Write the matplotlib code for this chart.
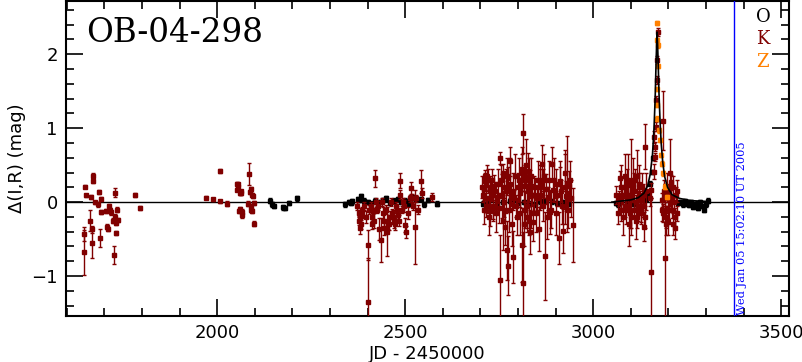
import matplotlib
matplotlib.use("Agg")
import matplotlib.pyplot as plt
from matplotlib.ticker import MultipleLocator

# ---- data: O, K, Z observations: JD-2450000, delta mag, error ----
k_t = [1647, 1647, 1649, 1651, 1662, 1664, 1666, 1667, 1669, 1670, 1675, 1682, 1685, 1688,
       1690, 1691, 1705, 1707, 1709, 1712, 1716, 1717, 1724, 1726, 1728, 1729, 1731, 1732,
       1733, 1735, 1782, 1794,
       1970, 1990, 2008, 2008, 2027, 2055, 2056, 2060, 2061, 2064, 2067, 2085, 2082, 2087,
       2089, 2092, 2095, 2098, 2098,
       2053, 2054, 2058, 2063, 2065, 2090, 2091, 2093,
       2378, 2380, 2382, 2384, 2386, 2400, 2402, 2408, 2411, 2413, 2415, 2421, 2423, 2425,
       2430, 2435, 2440, 2445, 2451, 2455, 2460, 2465, 2470, 2475, 2480, 2487, 2486, 2492,
       2497, 2500, 2503, 2515, 2519, 2526, 2541, 2545, 2572,
       2372, 2376, 2379, 2390, 2395, 2405, 2418, 2428, 2438, 2443, 2448, 2458, 2463, 2468,
       2473, 2478, 2483, 2495, 2508, 2512, 2522, 2530, 2535,
       2707, 2710, 2713, 2715, 2718, 2720, 2722, 2725, 2728, 2732, 2735, 2740, 2745, 2753,
       2753, 2758, 2761, 2762, 2764, 2765, 2772, 2774, 2774, 2778, 2782, 2786, 2790, 2795,
       2800, 2805, 2808, 2810, 2812, 2814, 2814, 2816, 2818, 2820, 2823, 2826, 2828, 2830,
       2833, 2836, 2838, 2840, 2845, 2850, 2856, 2860, 2862, 2864, 2866, 2868, 2871, 2875,
       2880, 2885, 2890, 2894, 2900, 2904, 2908, 2911, 2915, 2921, 2925, 2928, 2930, 2935,
       2946,
       2705, 2709, 2712, 2716, 2719, 2723, 2726, 2730, 2733, 2737, 2742, 2748, 2750, 2756,
       2760, 2767, 2770, 2776, 2780, 2784, 2788, 2792, 2797, 2802, 2806, 2811, 2817, 2821,
       2825, 2829, 2832, 2835, 2842, 2848, 2853, 2858, 2870, 2878, 2883, 2888, 2897, 2902,
       2913, 2918, 2924, 2932, 2938, 2942,
       3068, 3071, 3075, 3078, 3082, 3085, 3088, 3090, 3093, 3097, 3100, 3104, 3108, 3112,
       3115, 3118, 3121, 3125, 3128, 3132, 3135, 3136, 3137, 3138, 3150, 3155, 3155, 3161,
       3163, 3164, 3165, 3166, 3168, 3170, 3171, 3172,
       3062, 3066, 3073, 3080, 3084, 3087, 3092, 3095, 3099, 3102, 3106, 3110, 3114, 3117,
       3120, 3123, 3127, 3130, 3133, 3140,
       3184, 3186, 3187, 3190, 3192, 3195, 3198, 3200, 3203, 3205, 3208, 3210, 3212, 3215,
       3218, 3220, 3224,
       3183, 3189, 3194, 3197, 3201, 3206, 3213, 3217, 3222]
k_m = [-0.43, -0.68, 0.21, 0.09, -0.25, 0.07, -0.37, -0.55, 0.36, 0.29, 0.00, -0.03, 0.14, -0.49,
       -0.13, 0.04, -0.12, -0.33, -0.36, -0.05, -0.11, -0.14, -0.25, -0.72, 0.13, -0.20, -0.28, -0.42,
       -0.10, -0.24, 0.10, -0.08,
       0.06, 0.04, 0.42, 0.01, -0.02, 0.20, 0.24, -0.09, 0.13, 0.15, -0.17, 0.38, -0.02, 0.14,
       -0.10, -0.12, 0.08, -0.01, -0.29,
       0.25, 0.17, -0.12, 0.12, -0.13, 0.18, -0.05, 0.10,
       -0.15, -0.22, -0.30, -0.18, -0.10, -0.58, -1.35, -0.05, -0.20, -0.30, -0.12, 0.32, 0.00, -0.10,
       -0.36, -0.51, -0.15, -0.25, -0.40, -0.30, -0.20, -0.15, -0.25, -0.05, -0.18, 0.29, 0.10, -0.10,
       -0.05, -0.31, -0.40, 0.19, 0.05, -0.33, 0.28, 0.12, 0.07,
       -0.05, -0.25, -0.35, -0.05, -0.20, -0.10, -0.25, -0.05, 0.00, -0.35, -0.10, -0.30, 0.00, -0.20,
       -0.30, -0.10, -0.25, 0.00, -0.15, 0.05, -0.05, 0.05, -0.10,
       0.10, 0.18, 0.36, 0.25, -0.05, 0.30, 0.05, -0.12, 0.20, 0.12, -0.08, 0.15, 0.02, 0.60,
       -1.05, 0.08, 0.40, 0.20, 0.00, -0.33, -0.65, 0.33, -0.86, 0.55, 0.10, -0.74, 0.05, -0.05,
       0.20, 0.12, 0.30, -0.58, 0.40, 0.93, -1.10, 0.22, -0.10, 0.35, -0.20, 0.15, 0.42, -0.25,
       0.28, -0.15, 0.10, -0.27, 0.20, 0.05, -0.36, 0.25, 0.10, 0.52, 0.30, -0.05, -0.73, 0.18,
       0.05, -0.13, 0.52, 0.16, 0.25, 0.10, -0.49, 0.28, 0.15, -0.39, 0.20, 0.08, 0.25, 0.22,
       -0.31,
       0.20, -0.10, 0.28, 0.05, 0.35, -0.20, 0.15, 0.30, -0.05, 0.22, -0.15, 0.25, -0.08, 0.30,
       -0.25, 0.15, 0.35, -0.10, 0.25, -0.30, 0.15, 0.35, -0.20, 0.30, -0.15, 0.45, -0.30, 0.50,
       -0.05, 0.30, -0.40, 0.35, 0.10, -0.15, 0.30, 0.20, 0.35, -0.20, 0.30, -0.10, 0.30, -0.15,
       0.25, -0.05, 0.40, -0.10, 0.30, 0.05,
       0.05, 0.32, -0.10, 0.10, 0.20, -0.05, 0.12, 0.25, 0.05, -0.15, 0.25, 0.15, -0.10, 0.30,
       0.00, -0.20, 0.20, 0.05, -0.15, 0.10, 0.09, -0.33, 0.75, -0.20, 0.05, 0.16, -0.94, 0.41,
       0.88, 0.75, 0.61, 1.02, 1.38, 1.65, 1.92, 2.30,
       0.10, -0.15, 0.20, -0.20, 0.35, -0.10, 0.30, -0.30, 0.10, -0.20, 0.30, 0.15, -0.25, 0.35,
       -0.05, 0.25, -0.10, 0.20, -0.05, 0.15,
       0.03, 1.10, -0.15, 0.10, -0.76, -0.20, 0.05, -0.25, 0.15, 0.40, 0.27, -0.10, -0.30, 0.00,
       -0.20, 0.10, -0.15,
       -0.10, 0.15, -0.30, 0.20, -0.10, 0.05, 0.20, -0.35, 0.15]
k_e = [0.10, 0.30, 0.02, 0.02, 0.14, 0.03, 0.05, 0.21, 0.03, 0.03, 0.02, 0.03, 0.03, 0.12,
       0.03, 0.03, 0.03, 0.03, 0.03, 0.02, 0.03, 0.04, 0.03, 0.12, 0.06, 0.04, 0.03, 0.03,
       0.03, 0.03, 0.03, 0.03,
       0.02, 0.02, 0.03, 0.02, 0.03, 0.03, 0.02, 0.03, 0.03, 0.02, 0.04, 0.15, 0.03, 0.03,
       0.03, 0.03, 0.03, 0.03, 0.03,
       0.02, 0.02, 0.03, 0.03, 0.04, 0.03, 0.03, 0.03,
       0.05, 0.05, 0.06, 0.04, 0.04, 0.20, 0.60, 0.05, 0.05, 0.07, 0.04, 0.12, 0.06, 0.05,
       0.15, 0.30, 0.08, 0.10, 0.33, 0.07, 0.08, 0.06, 0.10, 0.05, 0.06, 0.10, 0.06, 0.05,
       0.08, 0.10, 0.08, 0.08, 0.06, 0.50, 0.16, 0.07, 0.05,
       0.05, 0.06, 0.08, 0.05, 0.08, 0.06, 0.10, 0.06, 0.05, 0.10, 0.06, 0.08, 0.05, 0.10,
       0.08, 0.05, 0.07, 0.06, 0.08, 0.05, 0.05, 0.05, 0.06,
       0.10, 0.15, 0.08, 0.12, 0.10, 0.15, 0.12, 0.20, 0.12, 0.10, 0.15, 0.12, 0.10, 0.08,
       0.60, 0.30, 0.12, 0.15, 0.20, 0.25, 0.40, 0.15, 0.40, 0.20, 0.15, 0.35, 0.12, 0.15,
       0.20, 0.18, 0.15, 0.50, 0.25, 0.26, 0.70, 0.20, 0.25, 0.15, 0.20, 0.18, 0.25, 0.20,
       0.15, 0.20, 0.15, 0.25, 0.12, 0.15, 0.30, 0.20, 0.15, 0.25, 0.15, 0.20, 0.60, 0.20,
       0.15, 0.30, 0.22, 0.15, 0.20, 0.15, 0.35, 0.20, 0.15, 0.30, 0.50, 0.20, 0.65, 0.20,
       0.50,
       0.15, 0.20, 0.12, 0.25, 0.15, 0.25, 0.20, 0.15, 0.20, 0.15, 0.25, 0.20, 0.20, 0.20,
       0.40, 0.30, 0.25, 0.30, 0.35, 0.30, 0.25, 0.30, 0.25, 0.30, 0.30, 0.30, 0.30, 0.35,
       0.30, 0.30, 0.30, 0.25, 0.25, 0.25, 0.25, 0.30, 0.30, 0.30, 0.25, 0.25, 0.30, 0.30,
       0.30, 0.25, 0.25, 0.25, 0.25, 0.25,
       0.10, 0.10, 0.15, 0.12, 0.12, 0.15, 0.20, 0.20, 0.15, 0.20, 0.60, 0.12, 0.12, 0.15,
       0.10, 0.15, 0.20, 0.10, 0.12, 0.15, 0.10, 0.20, 0.30, 0.15, 0.10, 0.10, 1.00, 0.10,
       0.08, 0.06, 0.06, 0.06, 0.05, 0.05, 0.05, 0.05,
       0.12, 0.15, 0.30, 0.25, 0.30, 0.20, 0.35, 0.30, 0.20, 0.25, 0.30, 0.25, 0.25, 0.35,
       0.20, 0.25, 0.20, 0.20, 0.15, 0.25,
       0.10, 0.40, 0.12, 0.15, 1.00, 0.15, 0.12, 0.20, 0.10, 0.45, 0.10, 0.12, 0.15, 0.10,
       0.12, 0.10, 0.10,
       0.15, 0.15, 0.15, 0.20, 0.20, 0.15, 0.15, 0.15, 0.15]

o_t = [2140, 2145, 2150, 2175, 2180, 2191, 2213,
       2339, 2351, 2355, 2360, 2374, 2378, 2382, 2390, 2400, 2410, 2420, 2430, 2440, 2450,
       2460, 2470, 2480, 2490, 2500, 2510, 2520, 2530, 2541, 2550, 2560, 2586,
       2708, 2720, 2745, 2760, 2778, 2790, 2800, 2815, 2830, 2845, 2860, 2875, 2890, 2905,
       2920, 2935,
       3060, 3065, 3075, 3090, 3110, 3127, 3140, 3145, 3152, 3157, 3160,
       3227, 3232, 3240, 3245, 3250, 3255, 3260, 3265, 3270, 3275, 3280, 3285, 3290, 3295,
       3300, 3305]
o_m = [0.02, -0.03, -0.05, -0.07, -0.08, -0.01, 0.05,
       -0.03, 0.00, -0.01, 0.01, 0.04, 0.03, 0.08, 0.02, 0.00, -0.02, 0.02, 0.00, 0.03, 0.05,
       -0.01, 0.02, 0.04, 0.00, 0.02, -0.02, 0.06, 0.04, 0.04, -0.03, 0.03, -0.02,
       -0.02, 0.01, -0.03, 0.00, 0.02, 0.03, -0.01, 0.00, -0.02, -0.03, 0.01, 0.02, 0.01, -0.01,
       0.00, -0.02,
       -0.01, -0.03, 0.01, -0.01, -0.02, 0.03, 0.04, 0.10, 0.25, 0.41, 0.60,
       -0.01, 0.00, -0.03, 0.01, -0.02, -0.04, 0.00, -0.06, -0.03, -0.02, -0.08, 0.00, -0.05, -0.10,
       -0.03, 0.02]
o_e = [0.03] * len(o_t)

z_t = [3171, 3171, 3172, 3172, 3171, 3171, 3170, 3175, 3178, 3181, 3183, 3187, 3191, 3196]
z_m = [2.42, 2.19, 2.12, 1.84, 1.53, 1.31, 1.13, 0.97, 0.84, 0.64, 0.52, 0.39, 0.21, 0.07]
z_e = [0.03] * len(z_t)

model_t = [3050, 3100, 3120, 3135, 3145, 3152, 3158, 3162, 3165, 3167, 3169, 3170, 3171,
           3173, 3175, 3178, 3181, 3185, 3190, 3198, 3210, 3230, 3260, 3300]
model_m = [0.00, 0.03, 0.06, 0.12, 0.22, 0.38, 0.65, 1.00, 1.40, 1.80, 2.15, 2.30, 2.20,
           1.90, 1.50, 1.10, 0.80, 0.55, 0.35, 0.20, 0.10, 0.05, 0.02, 0.01]

title = "OB-04-298"
stamp_jd = 3375
stamp_text = "Wed Jan 05 15:02:10 UT 2005"
legend_labels = ["O", "K", "Z"]
legend_colors = ["black", "#800000", "#ff8000"]

# ---- figure ----
fig = plt.figure(figsize=(8.03, 3.62), dpi=100)
ax = fig.add_axes([66 / 803, 1 - 316 / 362, (789 - 66) / 803, (316 - 1) / 362])
ax.set_xlim(1598, 3521)
ax.set_ylim(-1.54, 2.72)

ax.axhline(0, color="black", lw=1.0, zorder=1)

ax.errorbar(o_t, o_m, yerr=o_e, fmt="s", ms=2.5, color="black", ecolor="black",
            elinewidth=1, capsize=1.5, zorder=2)
ax.errorbar(k_t, k_m, yerr=k_e, fmt="s", ms=2.8, color="#800000", ecolor="#800000",
            elinewidth=1, capsize=1.5, zorder=3)
ax.errorbar(z_t, z_m, yerr=z_e, fmt="s", ms=3.5, color="#ff8000", ecolor="#ff8000",
            elinewidth=1, capsize=1.5, zorder=4)
ax.plot(model_t, model_m, color="black", lw=1.2, zorder=5)

ax.axvline(stamp_jd, color="#0000ff", lw=1.0, zorder=6)
ax.text(stamp_jd + 8, -1.52, stamp_text, rotation=90, color="#0000ff",
        family="DejaVu Serif", fontsize=8.2, ha="left", va="bottom")

ax.text(0.028, 0.95, title, transform=ax.transAxes, family="DejaVu Serif",
        fontsize=23.5, ha="left", va="top")
for i, (lab, col) in enumerate(zip(legend_labels, legend_colors)):
    fig.text(763 / 803, 1 - (17 + 22.5 * i) / 362, lab, color=col, family="DejaVu Serif",
             fontsize=13, ha="center", va="center")

ax.xaxis.set_major_locator(MultipleLocator(500))
ax.xaxis.set_minor_locator(MultipleLocator(100))
ax.yaxis.set_major_locator(MultipleLocator(1))
ax.yaxis.set_minor_locator(MultipleLocator(0.2))
ax.tick_params(which="both", direction="in", top=True, right=True, width=1.2)
ax.tick_params(which="major", length=12, labelsize=13, pad=6)
ax.tick_params(which="minor", length=6)
for s in ax.spines.values():
    s.set_linewidth(1.5)

ax.set_xlabel("JD - 2450000", fontsize=13, labelpad=2)
ax.set_ylabel("\u0394(I,R) (mag)", fontsize=13, labelpad=4)

fig.savefig("out.png", dpi=100)
